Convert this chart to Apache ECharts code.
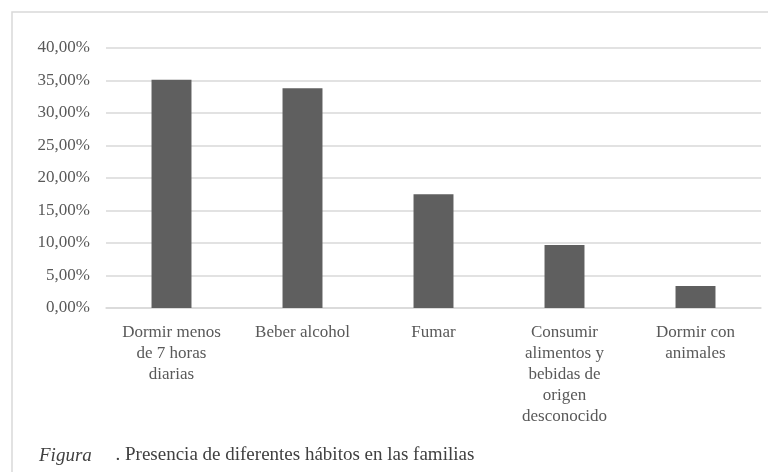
<!DOCTYPE html>
<html>
<head>
<meta charset="utf-8">
<script src="https://cdn.jsdelivr.net/npm/echarts@6/dist/echarts.min.js"></script>
<style>
  html, body { margin: 0; padding: 0; background: #fff; }
  #main { width: 768px; height: 472px; }
</style>
</head>
<body>
<div id="main"></div>
<script>
// categorias del eje x (con saltos de linea como en la figura)
let categories = [
  "Dormir menos\nde 7 horas\ndiarias",
  "Beber alcohol",
  "Fumar",
  "Consumir\nalimentos y\nbebidas de\norigen\ndesconocido",
  "Dormir con\nanimales"
];
// porcentajes
let values = [35.1, 33.8, 17.5, 9.7, 3.4];
let yTicks = [0, 5, 10, 15, 20, 25, 30, 35, 40];
let caption = "Figura";
let captionRest = "     . Presencia de diferentes hábitos en las familias";

let serif = "Liberation Serif";
let chart = echarts.init(document.getElementById("main"));

chart.setOption({
  backgroundColor: "#ffffff",
  animation: false,
  title: {
    text: "{i|" + caption + "}{n|" + captionRest + "}",
    left: 34,
    top: 441,
    textStyle: {
      fontWeight: "normal",
      rich: {
        i: { fontFamily: serif, fontStyle: "italic", fontWeight: "normal", fontSize: 19, color: "#404040" },
        n: { fontFamily: serif, fontWeight: "normal", fontSize: 19, color: "#404040" }
      }
    }
  },
  graphic: [{
    type: "rect",
    shape: { x: 12, y: 12, width: 800, height: 500 },
    style: { fill: null, stroke: "#d9d9d9", lineWidth: 1.5 },
    silent: true
  }],
  grid: { left: 106, right: 7, top: 48, bottom: 164 },
  xAxis: {
    type: "category",
    data: categories,
    axisLine: { show: true, lineStyle: { color: "#d9d9d9", width: 1.5 } },
    axisTick: { show: false },
    axisLabel: {
      interval: 0,
      margin: 14,
      fontFamily: serif,
      fontSize: 17,
      lineHeight: 21,
      color: "#595959"
    }
  },
  yAxis: {
    type: "value",
    min: yTicks[0],
    max: yTicks[yTicks.length - 1],
    interval: yTicks[1] - yTicks[0],
    axisLine: { show: false },
    axisTick: { show: false },
    splitLine: { lineStyle: { color: "#d9d9d9", width: 1.5 } },
    axisLabel: {
      margin: 16,
      fontFamily: serif,
      fontSize: 17,
      color: "#595959",
      formatter: function (v) {
        return v.toFixed(2).replace(".", ",") + "%";
      }
    }
  },
  series: [{
    type: "bar",
    data: values,
    barWidth: "30.5%",
    itemStyle: { color: "#5f5f5f" }
  }]
});
</script>
</body>
</html>
